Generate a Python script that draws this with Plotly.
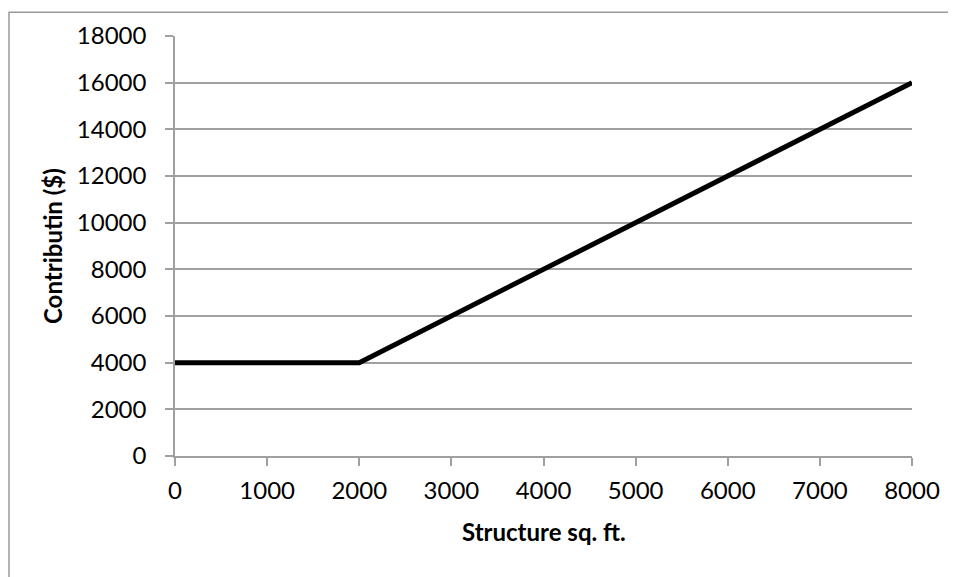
import plotly.graph_objects as go

sq_ft = [0, 2000, 8000]
contribution = [4000, 4000, 16000]
x_title = "Structure sq. ft."
y_title = "Contributin ($)"

# page has an 8px body margin; figure coords = page coords - 8
OFF = 8
W, H = 956, 577
ml, mt = 175 - OFF, 33 - OFF
pw, ph = 912 - 175, 456 - 33
mr, mb = W - ml - pw, H - mt - ph

def fx(page_x):
    return (page_x - OFF - ml) / pw

def fy(page_y):
    return 1 - (page_y - OFF - mt) / ph

fig = go.Figure()
fig.add_trace(go.Scatter(x=sq_ft, y=contribution, mode="lines",
                         line=dict(color="black", width=5), showlegend=False))

font = "Lato, 'Open Sans', sans-serif"
grid = "#a0a0a0"
fig.update_layout(
    width=W, height=H,
    margin=dict(l=ml, r=mr, t=mt, b=mb),
    paper_bgcolor="white", plot_bgcolor="white",
    font=dict(family=font, size=24, color="black"),
    xaxis=dict(range=[0, 8000], dtick=1000, tick0=0, showgrid=False,
               tickformat="d",
               showline=True, linecolor=grid, linewidth=1.5,
               ticks="outside", ticklen=8, tickcolor=grid, tickwidth=1.5,
               zeroline=False, tickfont=dict(size=24), ticklabelstandoff=4),
    yaxis=dict(range=[0, 18000], dtick=2000, tick0=0, showgrid=True,
               tickformat="d",
               gridcolor=grid, gridwidth=1.5,
               showline=True, linecolor=grid, linewidth=1.5,
               ticks="outside", ticklen=8, tickcolor=grid, tickwidth=1.5,
               zeroline=False, tickfont=dict(size=24), ticklabelstandoff=14),
    annotations=[
        dict(text="<b>" + x_title + "</b>", xref="paper", yref="paper",
             x=0.5, y=fy(532), xanchor="center", yanchor="middle",
             showarrow=False, font=dict(size=24)),
        dict(text="<b>" + y_title + "</b>", xref="paper", yref="paper",
             x=fx(52), y=0.5, xanchor="center", yanchor="middle", textangle=-90,
             showarrow=False, font=dict(size=24)),
    ],
    shapes=[dict(type="rect", xref="paper", yref="paper",
                 x0=fx(OFF + 1), x1=fx(W + 20),
                 y0=fy(H + 20), y1=fy(OFF + 1),
                 line=dict(color="#9a9a9a", width=1.5), layer="below")],
)

fig.write_html("out.html")
